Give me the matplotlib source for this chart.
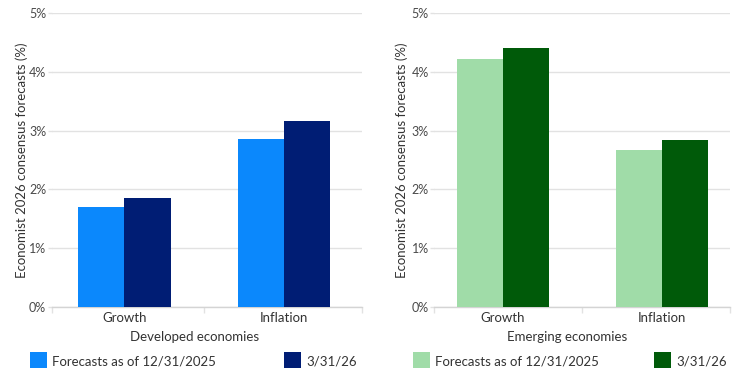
import matplotlib
matplotlib.use("Agg")
import matplotlib.pyplot as plt
from matplotlib.patches import Rectangle
import numpy as np

plt.rcParams["font.family"] = ["Lato", "DejaVu Sans"]

categories = ["Growth", "Inflation"]
series_names = ["Forecasts as of 12/31/2025", "3/31/26"]

developed_dec = [1.70, 2.86]
developed_mar = [1.85, 3.17]
emerging_dec = [4.22, 2.67]
emerging_mar = [4.41, 2.84]

yticks = [0, 1, 2, 3, 4, 5]
ytick_labels = ["0%", "1%", "2%", "3%", "4%", "5%"]

panels = [
    dict(title="Developed economies", values=[developed_dec, developed_mar],
         colors=["#0b88fc", "#001d74"], rect=[0.0704, 0.1666, 0.4228, 0.7973],
         xlim=(-0.455, 1.49), label_x=0.459, ypad=0.5,
         legend_x=[30, 284]),
    dict(title="Emerging economies", values=[emerging_dec, emerging_mar],
         colors=["#a0dca8", "#005a09"], rect=[0.5917, 0.1666, 0.4029, 0.7973],
         xlim=(-0.43, 1.43), label_x=0.45, ypad=2.5,
         legend_x=[413, 654]),
]

W, H = 734, 368
fig = plt.figure(figsize=(W / 100, H / 100), dpi=100)

tick_color = "#4a4a4a"
text_color = "#333333"
grid_color = "#e2e2e2"
width = 0.29
x = np.arange(len(categories))

for p in panels:
    ax = fig.add_axes(p["rect"])
    for i, (vals, col) in enumerate(zip(p["values"], p["colors"])):
        ax.bar(x + (i - 0.5) * width, vals, width=width, color=col,
               zorder=3, linewidth=0)
    ax.set_ylim(0, 5)
    ax.set_xlim(*p["xlim"])
    ax.set_yticks(yticks)
    ax.set_yticklabels(ytick_labels)
    ax.set_xticks(x)
    ax.set_xticklabels(categories)
    ax.set_xticks([p["xlim"][0], 0.5, p["xlim"][1]], minor=True)
    ax.tick_params(axis="x", which="major", length=0, pad=4,
                   labelsize=9.5, labelcolor=text_color)
    ax.tick_params(axis="x", which="minor", length=4, color=grid_color, width=1)
    ax.tick_params(axis="y", length=3, color=grid_color, width=1, pad=1,
                   labelsize=9, labelcolor=tick_color)
    ax.grid(axis="y", color=grid_color, linewidth=1, zorder=0)
    for s in ["top", "right", "left"]:
        ax.spines[s].set_visible(False)
    ax.spines["bottom"].set_color("#d4d4d4")
    ax.spines["bottom"].set_linewidth(1)
    ax.set_ylabel("Economist 2026 consensus forecasts (%)", fontsize=9.5,
                  color=text_color, labelpad=p["ypad"])
    ax.set_xlabel(p["title"], fontsize=9.5, color=text_color)
    ax.xaxis.set_label_coords(p["label_x"], -0.083)

    # legend row along the bottom edge
    for px, name, col in zip(p["legend_x"], series_names, p["colors"]):
        fig.patches.append(Rectangle((px / W, 0), 17 / W, 16 / H,
                                     transform=fig.transFigure,
                                     facecolor=col, edgecolor="none"))
        fig.text((px + 22) / W, 1 - 362 / H, name, fontsize=9.5,
                 color=text_color, va="center", ha="left")

fig.savefig("out.png", dpi=100)
